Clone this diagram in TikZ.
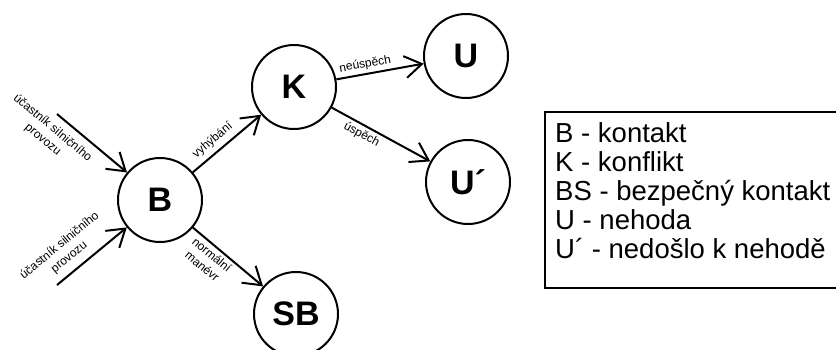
\documentclass[tikz,border=0pt]{standalone}
\usepackage{fontspec}
\setmainfont{Liberation Sans}
\usetikzlibrary{arrows.meta}
\begin{document}
\begin{tikzpicture}[x=1pt,y=-1pt,
  state/.style={circle,draw,line width=2pt,minimum size=84pt,inner sep=0pt,font=\fontsize{34}{34}\selectfont\bfseries},
  arr/.style={line width=2pt,-{Straight Barb[length=17pt,width=22pt]}},
  lbl/.style={font=\fontsize{12}{15}\selectfont,sloped,align=center,inner sep=3pt},
  legend/.style={font=\fontsize{27.5}{29}\selectfont,anchor=base west,inner sep=0pt}]
\useasboundingbox (0,0) rectangle (836,349);
\node[state] (B) at (160,200) {B};
\node[state] (K) at (294,87) {K};
\node[state] (U) at (466,56) {U};
\node[state] (U2) at (468,182) {U´};
\node[state] (SB) at (296,314) {SB};
\coordinate (p1) at (57,114);
\coordinate (p2) at (57,285);
\draw[arr] (p1) -- node[lbl,pos=0.06,below=4pt] {účastník silničního\\provozu} (B);
\draw[arr] (p2) -- node[lbl,pos=0.3,above=4pt] {účastník silničního\\provozu} (B);
\draw[arr] (B) -- node[lbl,pos=0.4,above=2pt] {vyhýbání} (K);
\draw[arr] (B) -- node[lbl,pos=0.35,below=0pt] {normální\\manévr} (SB);
\draw[arr] (K) -- node[lbl,pos=0.35,above] {neúspěch} (U);
\draw[arr] (K) -- node[lbl,pos=0.35,below] {úspěch} (U2);
\draw[line width=1.5pt] (545,112) rectangle (845,288);
\node[legend] (l1) at (555,142) {B - kontakt};
\node[legend] (l2) at (555,171) {K - konflikt};
\node[legend] (l3) at (555,200) {BS - bezpečný kontakt};
\node[legend] (l4) at (555,229) {U - nehoda};
\node[legend] (l5) at (555,258) {U´ - nedošlo k nehodě};
\end{tikzpicture}
\end{document}
